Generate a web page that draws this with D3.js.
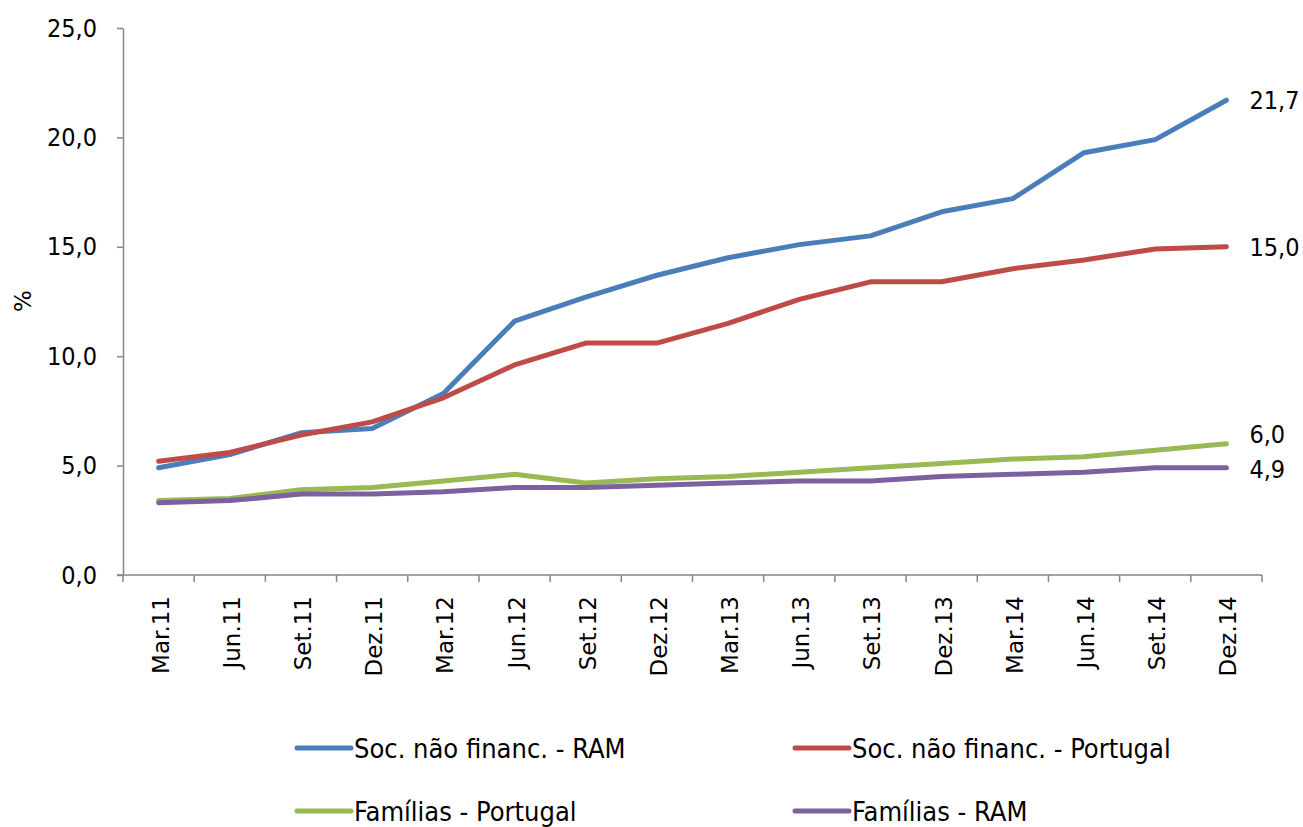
<!DOCTYPE html>
<html>
<head>
<meta charset="utf-8">
<script src="https://cdn.jsdelivr.net/npm/d3@7"></script>
<style>
  html, body { margin: 0; padding: 0; background: #fff; }
  svg { display: block; }
  .tick text { font-family: "DejaVu Sans Condensed", "DejaVu Sans", sans-serif; font-stretch: condensed; font-size: 25px; fill: #000; }
  .cond { font-family: "DejaVu Sans Condensed", "DejaVu Sans", sans-serif; font-stretch: condensed; fill: #000; }
</style>
</head>
<body>
<svg id="chart" width="1303" height="827"></svg>
<script>
// Quarters
const categories = ["Mar.11","Jun.11","Set.11","Dez.11","Mar.12","Jun.12","Set.12","Dez.12",
                    "Mar.13","Jun.13","Set.13","Dez.13","Mar.14","Jun.14","Set.14","Dez.14"];

// Series (%)
const socRAM      = [4.9, 5.5, 6.5, 6.7, 8.3, 11.6, 12.7, 13.7, 14.5, 15.1, 15.5, 16.6, 17.2, 19.3, 19.9, 21.7];
const socPortugal = [5.2, 5.6, 6.4, 7.0, 8.1, 9.6, 10.6, 10.6, 11.5, 12.6, 13.4, 13.4, 14.0, 14.4, 14.9, 15.0];
const famPortugal = [3.4, 3.5, 3.9, 4.0, 4.3, 4.6, 4.2, 4.4, 4.5, 4.7, 4.9, 5.1, 5.3, 5.4, 5.7, 6.0];
const famRAM      = [3.3, 3.4, 3.7, 3.7, 3.8, 4.0, 4.0, 4.1, 4.2, 4.3, 4.3, 4.5, 4.6, 4.7, 4.9, 4.9];

const yTicks = [0, 5, 10, 15, 20, 25];

const series = [
  { name: "Soc. não financ. - RAM",      values: socRAM,      color: "#4A7EBB", labelDy: 0 },
  { name: "Soc. não financ. - Portugal", values: socPortugal, color: "#BE4B48", labelDy: 0 },
  { name: "Famílias - Portugal",         values: famPortugal, color: "#98B954", labelDy: -10 },
  { name: "Famílias - RAM",              values: famRAM,      color: "#7D60A0", labelDy: 1 }
];

const svg = d3.select("#chart");
const plot = { left: 123, right: 1262, top: 28, bottom: 575 };

const x = d3.scaleBand().domain(categories).range([plot.left, plot.right]).padding(0);
const y = d3.scaleLinear().domain([0, 25]).range([plot.bottom, plot.top]);
const fmt = v => d3.format(".1f")(v).replace(".", ",");

// Y axis
const yAxis = svg.append("g")
  .attr("transform", `translate(${plot.left},0)`)
  .call(d3.axisLeft(y).tickValues(yTicks).tickFormat(fmt).tickSize(6).tickSizeOuter(0).tickPadding(20));
yAxis.select(".domain").attr("stroke", "#868686").attr("stroke-width", 1.5);
yAxis.selectAll(".tick line").attr("stroke", "#868686").attr("stroke-width", 1.5);

// X axis with ticks at band boundaries
const xAxisG = svg.append("g").attr("transform", `translate(0,${plot.bottom})`);
xAxisG.append("line")
  .attr("x1", plot.left - 6).attr("x2", plot.right)
  .attr("stroke", "#868686").attr("stroke-width", 1.5);
const bounds = categories.map(c => x(c)).concat([plot.right]);
xAxisG.selectAll("line.tk").data(bounds).join("line")
  .attr("class", "tk")
  .attr("x1", d => d).attr("x2", d => d)
  .attr("y1", 0).attr("y2", 7)
  .attr("stroke", "#868686").attr("stroke-width", 1.5);
xAxisG.selectAll("text").data(categories).join("text")
  .attr("transform", d => `translate(${x(d) + x.bandwidth() / 2 + 10},21) rotate(-90)`)
  .attr("text-anchor", "end")
  .style("font-family", "\"DejaVu Sans\", Verdana, sans-serif")
  .style("font-size", "23px")
  .text(d => d);

// Y axis title
svg.append("text")
  .attr("transform", "translate(31,301) rotate(-90)")
  .attr("text-anchor", "middle")
  .style("font-family", "\"DejaVu Sans\", Verdana, sans-serif")
  .style("font-size", "23px")
  .text("%");

// Lines
const line = d3.line()
  .x((d, i) => x(categories[i]) + x.bandwidth() / 2)
  .y(d => y(d));

svg.selectAll("path.series").data(series).join("path")
  .attr("class", "series")
  .attr("d", d => line(d.values))
  .attr("fill", "none")
  .attr("stroke", d => d.color)
  .attr("stroke-width", 5)
  .attr("stroke-linejoin", "round")
  .attr("stroke-linecap", "round");

// End-of-line value labels
const last = categories.length - 1;
svg.selectAll("text.endlabel").data(series).join("text")
  .attr("class", "endlabel cond")
  .attr("x", x(categories[last]) + x.bandwidth() / 2 + 23)
  .attr("y", d => y(d.values[last]) + d.labelDy)
  .attr("dy", "0.36em")
  .style("font-size", "25px")
  .text(d => fmt(d.values[last]));

// Legend
const legendPos = [
  { lx: 297, ly: 748 }, { lx: 795, ly: 748 },
  { lx: 297, ly: 811 }, { lx: 795, ly: 811 }
];
const legend = svg.selectAll("g.legend").data(series).join("g")
  .attr("class", "legend")
  .attr("transform", (d, i) => `translate(${legendPos[i].lx},${legendPos[i].ly})`);
legend.append("line")
  .attr("x1", 0).attr("x2", 54)
  .attr("stroke", d => d.color)
  .attr("stroke-width", 5)
  .attr("stroke-linecap", "round");
legend.append("text")
  .attr("class", "cond")
  .attr("x", 57)
  .attr("dy", "0.36em")
  .style("font-size", "27px")
  .text(d => d.name);
</script>
</body>
</html>
